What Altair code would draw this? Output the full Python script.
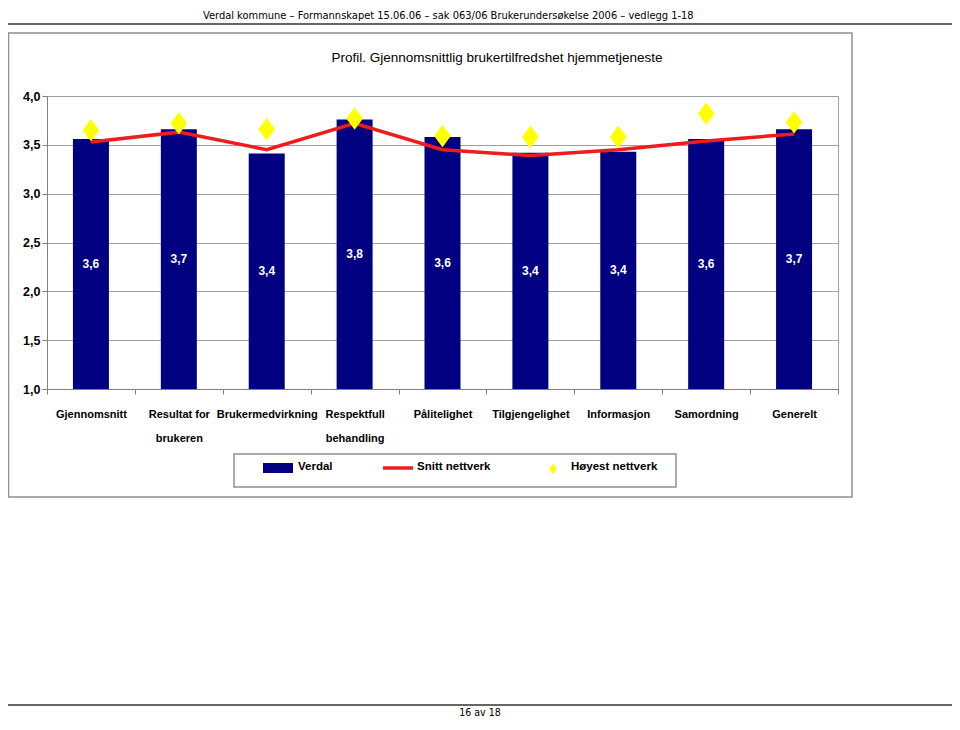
import altair as alt
import pandas as pd

# ---- data ----
categories = ["Gjennomsnitt", "Resultat for|brukeren", "Brukermedvirkning",
              "Respektfull|behandling", "Pålitelighet", "Tilgjengelighet",
              "Informasjon", "Samordning", "Generelt"]
verdal = [3.56, 3.66, 3.41, 3.76, 3.58, 3.42, 3.43, 3.56, 3.66]
snitt_nettverk = [3.53, 3.63, 3.45, 3.72, 3.45, 3.39, 3.45, 3.54, 3.61]
hoyest_nettverk = [3.65, 3.72, 3.66, 3.77, 3.59, 3.58, 3.58, 3.82, 3.73]
y_ticks = [1.0, 1.5, 2.0, 2.5, 3.0, 3.5, 4.0]
legend_labels = ["Verdal", "Snitt nettverk", "Høyest nettverk"]

title_text = "Profil. Gjennomsnittlig brukertilfredshet hjemmetjeneste"
header_text = "Verdal kommune \u2013 Formannskapet 15.06.06 \u2013 sak 063/06 Brukerundersøkelse 2006 \u2013 vedlegg 1-18"
footer_text = "16 av 18"

NAVY = "#000080"
RED = "#ee1c1c"
YELLOW = "#ffff00"
FONT = "Liberation Sans"

df = pd.DataFrame({
    "kategori": categories,
    "verdal": verdal,
    "snitt": snitt_nettverk,
    "hoyest": hoyest_nettverk,
})

W, H = 791, 293

x_enc = alt.X(
    "kategori:N", sort=categories, title=None,
    scale=alt.Scale(paddingInner=0, paddingOuter=0),
    axis=alt.Axis(
        labelAngle=0, labelExpr="split(datum.label, '|')",
        labelLineHeight=24, labelFont=FONT, labelFontSize=11,
        labelFontWeight="bold", labelColor="#000000", labelPadding=14,
        labelOverlap=False, labelLimit=0, tickBand="extent", tickSize=5,
        tickColor="#808080", domainColor="#808080", grid=False,
    ),
)
y_scale = alt.Scale(domain=[1, 4], zero=False, nice=False)

base = alt.Chart(df)

bars = base.mark_bar(width=36, color=NAVY).encode(
    x=x_enc,
    y=alt.Y("verdal:Q", scale=y_scale, title=None,
            axis=alt.Axis(values=y_ticks,
                          labelExpr="replace(format(datum.value, '.1f'), '.', ',')",
                          labelFont=FONT, labelFontSize=12.5, labelFontWeight="bold",
                          labelColor="#000000", labelPadding=2, tickSize=5,
                          tickColor="#808080", domainColor="#808080",
                          grid=True, gridColor="#a0a0a0", gridWidth=1)),
    y2=alt.Y2(datum=1),
)

bar_labels = base.transform_calculate(
    mid="(datum.verdal + 1) / 2",
    txt="replace(format(datum.verdal, '.1f'), '.', ',')",
).mark_text(font=FONT, fontSize=12, fontWeight="bold", color="white").encode(
    x=alt.X("kategori:N", sort=categories),
    y=alt.Y("mid:Q", scale=y_scale),
    text="txt:N",
)

line = base.mark_line(color=RED, strokeWidth=3.5).encode(
    x=alt.X("kategori:N", sort=categories),
    y=alt.Y("snitt:Q", scale=y_scale),
)

diamond = "M0,-1L0.75,0L0,1L-0.75,0Z"
points = base.mark_point(shape=diamond, filled=True, color=YELLOW, size=500, opacity=1).encode(
    x=alt.X("kategori:N", sort=categories),
    y=alt.Y("hoyest:Q", scale=y_scale),
)

one = pd.DataFrame({"a": [0]})
deco = alt.Chart(one)

# outer chart frame
frame = deco.mark_rect(fill=None, stroke="#909090", strokeWidth=1.5).encode(
    x=alt.value(-38.5), x2=alt.value(805), y=alt.value(-63), y2=alt.value(401))

title = deco.mark_text(font=FONT, fontSize=13.5, color="#000000").encode(
    x=alt.value(450), y=alt.value(-38), text=alt.value(title_text))

header = deco.mark_text(font="DejaVu Sans Condensed", fontSize=11, color="#000000",
                        align="left", baseline="bottom").encode(
    x=alt.value(156), y=alt.value(-75), text=alt.value(header_text))
header_rule = deco.mark_rule(color="#333333", strokeWidth=1.5).encode(
    x=alt.value(-47), x2=alt.value(913), y=alt.value(-72))

footer_rule = deco.mark_rule(color="#333333", strokeWidth=1.5).encode(
    x=alt.value(-47), x2=alt.value(913), y=alt.value(609))
footer = deco.mark_text(font="DejaVu Sans Condensed", fontSize=10.5, color="#000000",
                        baseline="alphabetic").encode(
    x=alt.value(433), y=alt.value(620), text=alt.value(footer_text))

# legend box
leg_box = deco.mark_rect(fill="white", stroke="#909090", strokeWidth=1.5).encode(
    x=alt.value(187), x2=alt.value(629), y=alt.value(358), y2=alt.value(391))
leg_rect = deco.mark_rect(color=NAVY).encode(
    x=alt.value(216), x2=alt.value(246), y=alt.value(367), y2=alt.value(377))
leg_line = deco.mark_rule(color=RED, strokeWidth=3.5).encode(
    x=alt.value(336), x2=alt.value(366), y=alt.value(372))
leg_pt = deco.mark_point(shape=diamond, filled=True, color=YELLOW, size=110, opacity=1).encode(
    x=alt.value(506), y=alt.value(373))
leg_df = pd.DataFrame({"label": legend_labels, "px": [251, 370, 524]})
leg_text = alt.Chart(leg_df).mark_text(font=FONT, fontSize=11.5, fontWeight="bold",
                                       color="#000000", align="left").encode(
    x=alt.X("px:Q", scale=None), y=alt.value(371), text="label:N")

chart = alt.layer(
    frame, header, header_rule, footer_rule, footer, title,
    bars, bar_labels, line, points,
    leg_box, leg_rect, leg_line, leg_pt, leg_text,
).properties(
    width=W, height=H,
    autosize=alt.AutoSizeParams(type="none"),
    padding={"left": 39, "top": 88, "right": 114, "bottom": 333},
    background="white",
).configure_view(stroke="#a0a0a0", strokeWidth=1)

chart.save("out.html", embed_options={"renderer": "svg", "actions": False})
